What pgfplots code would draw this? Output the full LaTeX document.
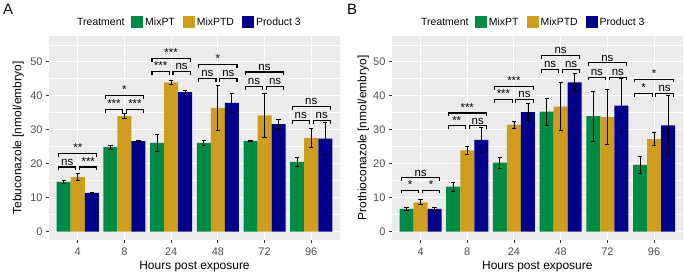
\documentclass[border=0pt]{standalone}
\usepackage{fontspec}
\setmainfont{Liberation Sans}
\usepackage{pgfplots}
\usepackage{pgfplotstable}
\pgfplotsset{compat=1.18}
\definecolor{bgg}{HTML}{EBEBEB}
\definecolor{gthirty}{HTML}{4D4D4D}
\definecolor{gtwenty}{HTML}{333333}
\definecolor{cgreen}{HTML}{008B45}
\definecolor{cgold}{HTML}{CF9D1E}
\definecolor{cblue}{HTML}{00008B}

\pgfplotstableread{
x a ae b be c ce
0 14.6 0.3 16.0 1.1 11.4 0.2
1 24.9 0.6 34.0 0.7 26.6 0.2
2 26.1 2.4 43.9 0.7 41.1 0.5
3 26.1 0.8 36.4 6.7 37.9 2.7
4 26.7 0.2 34.2 6.6 31.6 1.4
5 20.5 1.3 27.6 2.9 27.4 4.7
}\tebu

\pgfplotstableread{
x a ae b be c ce
0 6.7 0.5 8.6 0.7 6.7 0.4
1 13.2 1.3 23.9 1.1 27.0 3.7
2 20.3 1.6 31.5 1.0 35.2 2.5
3 35.3 4.0 36.8 7.0 43.9 2.7
4 34.0 7.4 33.7 8.1 37.1 7.9
5 19.6 2.6 27.2 1.9 31.3 8.9
}\proth

\tikzset{
  sigline/.style={black, line width=1.1bp},
  siglab/.style={anchor=base, inner sep=0pt, yshift=1.8bp, font=\fontsize{11.5}{13}\selectfont},
}

\pgfplotsset{
  base/.style={
    scale only axis, width=291.4bp, height=204bp,
    xmin=-0.62, xmax=5.62, ymin=-2.5, ymax=57.6,
    axis background/.style={fill=bgg},
    axis line style={draw=none},
    xtick={0,...,5}, xticklabels={4,8,24,48,72,96},
    ytick={0,10,...,50}, minor ytick={5,15,...,55},
    grid=both,
    major grid style={white, line width=1.07bp},
    minor grid style={white, line width=0.53bp},
    tick pos=left, tick align=outside,
    major tick length=2.7bp, minor tick length=0pt,
    tick style={gtwenty, line width=0.9bp},
    ticklabel style={font=\fontsize{11}{12}\selectfont, text=gthirty},
    xticklabel style={yshift=-1.5bp},
    /pgf/number format/assume math mode=true,
    label style={font=\fontsize{12}{13}\selectfont},
    xlabel={Hours post exposure},
    xlabel style={at={(axis description cs:0.5,-0.13)}, anchor=center},
    legend columns=3,
    legend style={draw=none, fill=none, anchor=west,
      font=\fontsize{10.5}{12}\selectfont,
      /tikz/every even column/.append style={column sep=6bp}},
    legend image code/.code={\fill[##1,draw=none] (0bp,-6bp) rectangle (12bp,6bp);},
    err/.style={error bars/.cd, y dir=both, y explicit,
      error bar style={black, line width=0.9bp},
      error mark options={rotate=90, black, mark size=2.1bp, line width=0.9bp}},
  },
}

\newcommand{\sig}[6]{%
  \draw[sigline] (axis cs:#1-0.41,#2-1) -- (axis cs:#1-0.41,#2) -- (axis cs:#1-0.04,#2) -- (axis cs:#1-0.04,#2-1);
  \draw[sigline] (axis cs:#1+0.04,#2-1) -- (axis cs:#1+0.04,#2) -- (axis cs:#1+0.41,#2) -- (axis cs:#1+0.41,#2-1);
  \draw[sigline] (axis cs:#1-0.41,#3-1) -- (axis cs:#1-0.41,#3) -- (axis cs:#1+0.41,#3) -- (axis cs:#1+0.41,#3-1);
  \node[siglab] at (axis cs:#1-0.225,#2) {#4};
  \node[siglab] at (axis cs:#1+0.225,#2) {#5};
  \node[siglab] at (axis cs:#1,#3) {#6};
}

\begin{document}
\begin{tikzpicture}
\useasboundingbox (0,0) rectangle (685bp,275bp);

\begin{axis}[base, at={(48.8bp,35bp)}, anchor=south west,
  ylabel={Tebuconazole [nmol/embryo]},
  ylabel style={at={(axis description cs:-0.105,0.5)}, anchor=center},
  legend style={at={(axis description cs:0.272,1.0686)}}]
\addplot[ybar, bar width=0.3, bar shift=0pt, fill=cgreen, draw=none, err] table[x expr=\thisrow{x}-0.3, y=a, y error=ae] {\tebu};
\addplot[ybar, bar width=0.3, bar shift=0pt, fill=cgold, draw=none, err] table[x=x, y=b, y error=be] {\tebu};
\addplot[ybar, bar width=0.3, bar shift=0pt, fill=cblue, draw=none, err] table[x expr=\thisrow{x}+0.3, y=c, y error=ce] {\tebu};
\legend{MixPT, MixPTD, Product 3}
\sig{0}{19.0}{23.0}{ns}{***}{**}
\sig{1}{35.9}{40.0}{***}{***}{*}
\sig{2}{47.1}{51.0}{***}{ns}{***}
\sig{3}{45.1}{49.2}{ns}{ns}{*}
\sig{4}{42.7}{47.0}{ns}{ns}{ns}
\sig{5}{32.7}{36.9}{ns}{ns}{ns}
\end{axis}

\begin{axis}[base, at={(391.6bp,35bp)}, anchor=south west,
  ylabel={Prothioconazole [nmol/embryo]},
  ylabel style={at={(axis description cs:-0.097,0.5)}, anchor=center},
  legend style={at={(axis description cs:0.275,1.0686)}}]
\addplot[ybar, bar width=0.3, bar shift=0pt, fill=cgreen, draw=none, err] table[x expr=\thisrow{x}-0.3, y=a, y error=ae] {\proth};
\addplot[ybar, bar width=0.3, bar shift=0pt, fill=cgold, draw=none, err] table[x=x, y=b, y error=be] {\proth};
\addplot[ybar, bar width=0.3, bar shift=0pt, fill=cblue, draw=none, err] table[x expr=\thisrow{x}+0.3, y=c, y error=ce] {\proth};
\legend{MixPT, MixPTD, Product 3}
\sig{0}{12.2}{15.8}{*}{*}{ns}
\sig{1}{31.1}{34.9}{**}{ns}{***}
\sig{2}{39.0}{42.7}{***}{ns}{***}
\sig{3}{47.8}{51.9}{ns}{ns}{ns}
\sig{4}{45.5}{49.7}{ns}{ns}{ns}
\sig{5}{40.7}{44.9}{*}{ns}{*}
\end{axis}

\node[anchor=west, inner sep=0pt, font=\fontsize{10.5}{12}\selectfont] at (77bp,253bp) {Treatment};
\node[anchor=west, inner sep=0pt, font=\fontsize{10.5}{12}\selectfont] at (421bp,253bp) {Treatment};
\node[inner sep=0pt, font=\fontsize{15}{16}\selectfont] at (8bp,266bp) {A};
\node[inner sep=0pt, font=\fontsize{15}{16}\selectfont] at (352bp,266bp) {B};
\end{tikzpicture}
\end{document}
